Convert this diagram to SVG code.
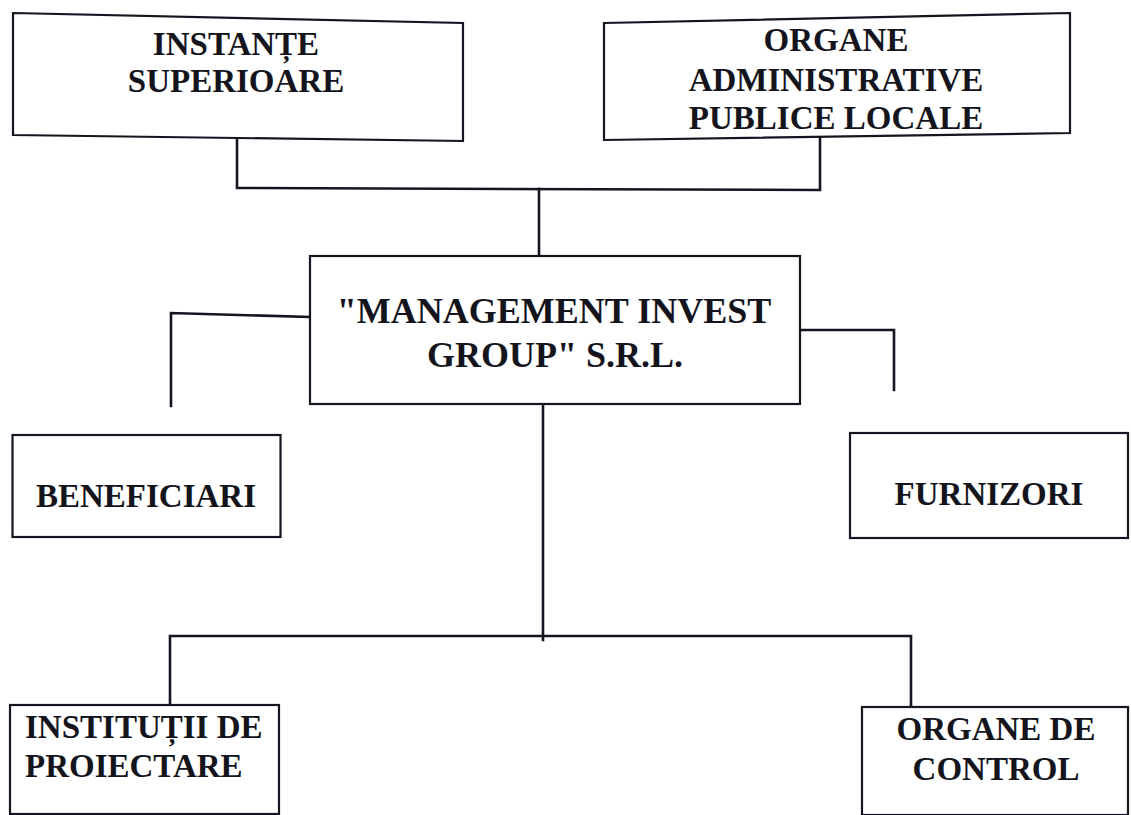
<svg xmlns="http://www.w3.org/2000/svg" width="1131" height="815" viewBox="0 0 1131 815">
<style>
.box{fill:#fff;stroke:#151520;stroke-width:2.2}
.ln{fill:none;stroke:#151520;stroke-width:2.6;stroke-linecap:square;stroke-linejoin:miter}
text{font-family:"Liberation Serif","Times New Roman",serif;font-weight:bold;font-size:33px;fill:#14141c}
.c{text-anchor:middle}
.big{font-size:36px}
</style>
<rect width="1131" height="815" fill="#fff"/>
<g id="connectors">
<path class="ln" d="M237,140 V188 L820,190 V138"/>
<path class="ln" d="M539,189 V257"/>
<path class="ln" d="M310,317 L171,313 V406"/>
<path class="ln" d="M800,330 H894 V390"/>
<path class="ln" d="M543,404 V640"/>
<path class="ln" d="M170,705 V636 H911 V707"/>
</g>
<g id="instante">
<path class="box" d="M13,13 L463,23 L463,141 L13,135 Z"/>
<text class="c" x="236" y="55">INSTANȚE</text>
<text class="c" x="236" y="92">SUPERIOARE</text>
</g>
<g id="organe-admin">
<path class="box" d="M604,23 L1070,13 L1070,133 L604,140 Z"/>
<text class="c" x="836" y="51">ORGANE</text>
<text class="c" x="836" y="91">ADMINISTRATIVE</text>
<text class="c" x="836" y="129">PUBLICE LOCALE</text>
</g>
<g id="management">
<rect class="box" x="310" y="256" width="490" height="148"/>
<text class="c big" x="554" y="323">"MANAGEMENT INVEST</text>
<text class="c big" x="555" y="367">GROUP" S.R.L.</text>
</g>
<g id="beneficiari">
<rect class="box" x="12.5" y="435" width="268" height="102"/>
<text class="c" x="146" y="507">BENEFICIARI</text>
</g>
<g id="furnizori">
<rect class="box" x="850" y="433" width="278" height="105"/>
<text class="c" x="989" y="505">FURNIZORI</text>
</g>
<g id="institutii">
<rect class="box" x="10" y="705" width="269" height="109"/>
<text x="25" y="738">INSTITUȚII DE</text>
<text x="25" y="777">PROIECTARE</text>
</g>
<g id="organe-control">
<rect class="box" x="862" y="707" width="266" height="108"/>
<text class="c" x="996" y="740">ORGANE DE</text>
<text class="c" x="996" y="780">CONTROL</text>
</g>
</svg>
